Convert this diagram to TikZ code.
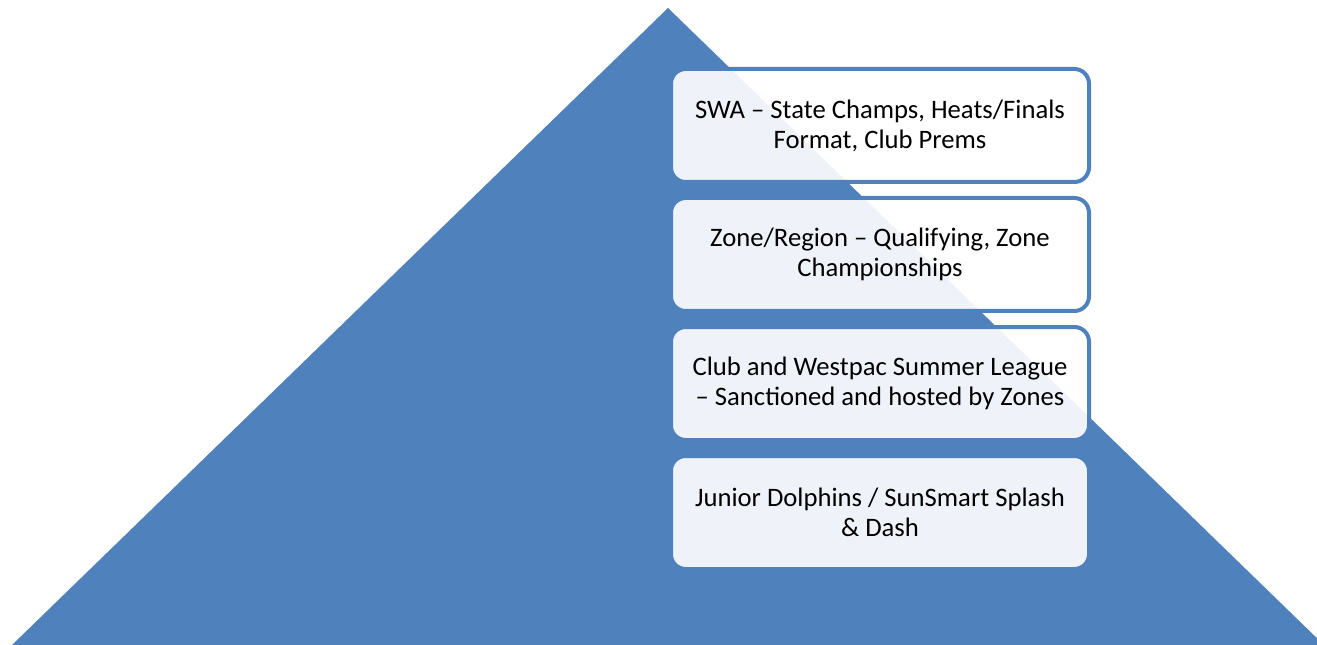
\documentclass[tikz,border=0pt]{standalone}
\usepackage{fontspec}
\setmainfont{Carlito}
\usetikzlibrary{positioning}
\definecolor{pyrblue}{HTML}{4F81BD}
\tikzset{tierbox/.style={draw=pyrblue, line width=3pt, fill=white, fill opacity=0.91, text opacity=1,
  rounded corners=11pt, minimum width=313.5pt, minimum height=84.75pt, inner sep=0pt, outer sep=0pt,
  align=center, font=\fontsize{20}{22.5}\selectfont}}

\begin{document}
\begin{tikzpicture}[x=0.75pt,y=-0.75pt,node distance=12pt]
\useasboundingbox (0,0) rectangle (1317,645);
\clip (0,0) rectangle (1317,645);
% pyramid
\coordinate (apex) at (668,8);
\coordinate (left) at (12,645);
\coordinate (right) at (1324,645);
\fill[pyrblue] (apex) -- (left) -- (right) -- cycle;
% tiers
\node[tierbox] (swa) at (880,125.5) {SWA -- State Champs, Heats/Finals\\Format, Club Prems};
\node[tierbox,below=of swa] (zone) {Zone/Region -- Qualifying, Zone\\Championships};
\node[tierbox,below=of zone] (club) {Club and Westpac Summer League\\-- Sanctioned and hosted by Zones};
\node[tierbox,below=of club] (junior) {Junior Dolphins / SunSmart Splash\\\& Dash};
\end{tikzpicture}
\end{document}
